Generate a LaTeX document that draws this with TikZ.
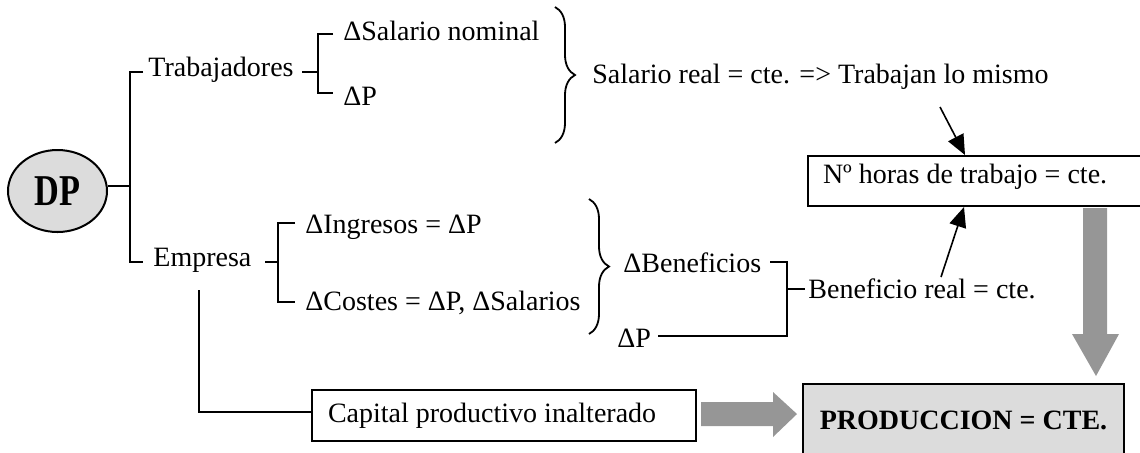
\documentclass[tikz,border=0pt]{standalone}
\usepackage{fontspec}
\setmainfont{Liberation Serif}
\usetikzlibrary{shapes.geometric,decorations.pathreplacing,arrows.meta}
\definecolor{lgray}{RGB}{220,220,220}
\definecolor{agray}{RGB}{150,150,150}
\begin{document}
\begin{tikzpicture}[x=0.5pt,y=-0.5pt,
  txt/.style={inner sep=0pt, anchor=base west},
  ln/.style={line width=1pt},
  boxed/.style={draw, line width=1pt},
  br/.style={line width=0.9pt, decorate, decoration={brace, amplitude=10pt}},
  arr/.style={line width=0.8pt, -{Triangle[length=10pt,width=8.5pt]}},
  font=\fontsize{14}{16}\selectfont]
\useasboundingbox (0,0) rectangle (1140,452);

\node[ellipse, draw, line width=1pt, fill=lgray, minimum width=49.5pt, minimum height=41pt, inner sep=0pt] (dp) at (57.5,191) {\fontsize{22}{22}\selectfont\bfseries\scalebox{0.78}[1]{DP}};

\node[txt] (trab) at (148,76) {Trabajadores};
\node[txt] (salnom) at (343,40) {ΔSalario nominal};
\node[txt] (p1) at (343,105) {ΔP};
\node[txt] (salreal) at (592,83) {Salario real = cte. => Trabajan lo mismo};
\node[txt] (emp) at (153,266) {Empresa};
\node[txt] (ing) at (305,233) {ΔIngresos = ΔP};
\node[txt] (cost) at (305,310) {ΔCostes = ΔP, ΔSalarios};
\node[txt] (benef) at (623,272) {ΔBeneficios};
\node[txt] (p2) at (617,347) {ΔP};
\node[txt] (benreal) at (808,298) {Beneficio real = cte.};

\node[boxed, anchor=base west, inner xsep=7.5pt, inner ysep=4.5pt, text height=9pt, text depth=7pt] (horas) at (807,183) {\makebox[154pt][l]{Nº horas de trabajo = cte.}};
\node[boxed, anchor=base west, inner xsep=8pt, inner ysep=7pt, text height=9pt, text depth=2.5pt] (cap) at (311,422) {\makebox[176pt][l]{Capital productivo inalterado}};
\node[boxed, fill=lgray, anchor=base, inner xsep=0pt, inner ysep=13.5pt, text height=9pt, text depth=12pt] (prod) at (963.5,429) {\makebox[160.5pt]{\bfseries PRODUCCION = CTE.}};

% tree brackets
\draw[ln] (dp.east |- 0,186) -- (130,186);
\draw[ln] (143,72) -- (130,72) -- (130,262) -- (143,262);
\draw[ln] (302,72) -- (318,72);
\draw[ln] (333,34) -- (318,34) -- (318,93) -- (333,93);
\draw[ln] (265,262) -- (278,262);
\draw[ln] (295,223) -- (278,223) -- (278,302) -- (295,302);
\draw[br] (555,7) -- (555,143);
\draw[br] (589,199) -- (589,334);
\draw[ln] (770,262) -- (787,262) -- (787,336) -- (658,336);
\draw[ln] (787,289) -- (805,289);
\draw[ln] (199,290) -- (199,412) -- (cap.west |- 0,412);

% thin arrows
\draw[arr] (940,107) -- (horas.north -| 965,0);
\draw[arr] (941,277) -- (horas.south -| 964,0);

% fat gray arrows
\fill[agray] (1083,208) -- (1107,208) -- (1107,334) -- (1119,334) -- (1096,376) -- (1072,334) -- (1083,334) -- cycle;
\fill[agray] (701,402) -- (773,402) -- (773,392) -- (797,414) -- (773,437) -- (773,426) -- (701,426) -- cycle;
\end{tikzpicture}
\end{document}
